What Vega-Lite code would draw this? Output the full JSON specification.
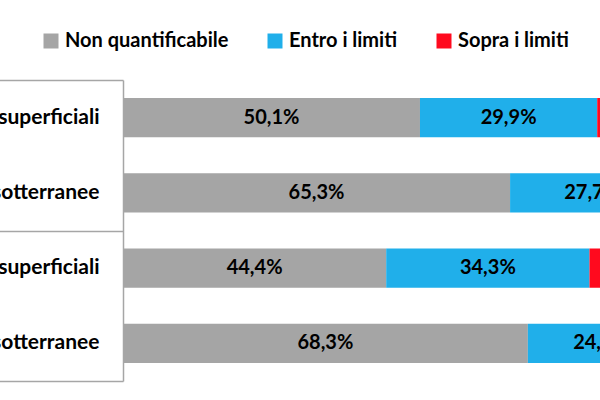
{
  "$schema": "https://vega.github.io/schema/vega-lite/v6.json",
  "autosize": {"type": "none"},
  "padding": {"left": 123, "top": 80, "right": 0, "bottom": 19},
  "width": 477,
  "height": 301,
  "config": {
    "font": "Lato",
    "view": {"stroke": null},
    "locale": {"number": {"decimal": ",", "thousands": ".", "grouping": [3], "currency": ["€", ""], "percent": "%"}}
  },
  "data": {
    "values": [
      {"gruppo": "G1", "id": "G1|Acque superficiali", "stato": "Non quantificabile", "k": 1, "quota": 0.501},
      {"gruppo": "G1", "id": "G1|Acque superficiali", "stato": "Entro i limiti", "k": 2, "quota": 0.299},
      {"gruppo": "G1", "id": "G1|Acque superficiali", "stato": "Sopra i limiti", "k": 3, "quota": 0.200},
      {"gruppo": "G1", "id": "G1|Acque sotterranee", "stato": "Non quantificabile", "k": 1, "quota": 0.653},
      {"gruppo": "G1", "id": "G1|Acque sotterranee", "stato": "Entro i limiti", "k": 2, "quota": 0.277},
      {"gruppo": "G1", "id": "G1|Acque sotterranee", "stato": "Sopra i limiti", "k": 3, "quota": 0.070},
      {"gruppo": "G2", "id": "G2|Acque superficiali", "stato": "Non quantificabile", "k": 1, "quota": 0.444},
      {"gruppo": "G2", "id": "G2|Acque superficiali", "stato": "Entro i limiti", "k": 2, "quota": 0.343},
      {"gruppo": "G2", "id": "G2|Acque superficiali", "stato": "Sopra i limiti", "k": 3, "quota": 0.213},
      {"gruppo": "G2", "id": "G2|Acque sotterranee", "stato": "Non quantificabile", "k": 1, "quota": 0.683},
      {"gruppo": "G2", "id": "G2|Acque sotterranee", "stato": "Entro i limiti", "k": 2, "quota": 0.247},
      {"gruppo": "G2", "id": "G2|Acque sotterranee", "stato": "Sopra i limiti", "k": 3, "quota": 0.070}
    ]
  },
  "layer": [
    {
      "mark": {"type": "bar", "clip": true},
      "encoding": {
        "y": {
          "field": "id", "type": "nominal", "sort": null,
          "scale": {"paddingInner": 0.48, "paddingOuter": 0.24},
          "axis": {
            "orient": "left", "title": null, "ticks": false, "domain": false, "grid": false,
            "labelExpr": "split(datum.label, '|')[1]",
            "labelFont": "Lato", "labelFontWeight": "bold", "labelFontSize": 21, "labelColor": "#000000",
            "labelPadding": 24, "labelLimit": 400
          }
        },
        "x": {
          "field": "quota", "type": "quantitative", "stack": "zero",
          "scale": {"domain": [0, 0.8047], "nice": false, "zero": true},
          "axis": null
        },
        "order": {"field": "k"},
        "color": {
          "field": "stato", "type": "nominal",
          "scale": {"domain": ["Non quantificabile", "Entro i limiti", "Sopra i limiti"], "range": ["#A5A5A5", "#20AFEA", "#FF0A1E"]},
          "legend": {
            "title": null, "orient": "none", "direction": "horizontal", "columns": 3,
            "legendX": -82, "legendY": -49, "padding": 0,
            "symbolType": "square", "symbolSize": 225, "symbolStrokeWidth": 0, "symbolOpacity": 1,
            "labelFont": "Lato", "labelFontWeight": "bold", "labelFontSize": 20, "labelColor": "#000000",
            "labelOffset": 4, "columnPadding": 36, "labelLimit": 300
          }
        }
      }
    },
    {
      "mark": {"type": "text", "clip": true, "font": "Lato", "fontWeight": "bold", "fontSize": 20, "color": "#000000"},
      "encoding": {
        "y": {"field": "id", "type": "nominal", "sort": null},
        "x": {"field": "quota", "type": "quantitative", "stack": "zero", "bandPosition": 0.5},
        "order": {"field": "k"},
        "detail": {"field": "stato"},
        "text": {"field": "quota", "type": "quantitative", "format": ".1%"}
      }
    },
    {
      "mark": {"type": "rect", "opacity": 0},
      "encoding": {
        "y": {
          "field": "gruppo", "type": "nominal", "sort": null,
          "scale": {"paddingInner": 0, "paddingOuter": 0},
          "axis": {
            "orient": "left", "title": null, "labels": false, "grid": false,
            "domain": true, "domainColor": "#A6A6A6", "domainWidth": 1.5,
            "ticks": true, "tickBand": "extent", "tickSize": 135, "tickColor": "#A6A6A6", "tickWidth": 1.5
          }
        }
      }
    }
  ],
  "resolve": {"scale": {"y": "independent"}, "axis": {"y": "independent"}}
}
